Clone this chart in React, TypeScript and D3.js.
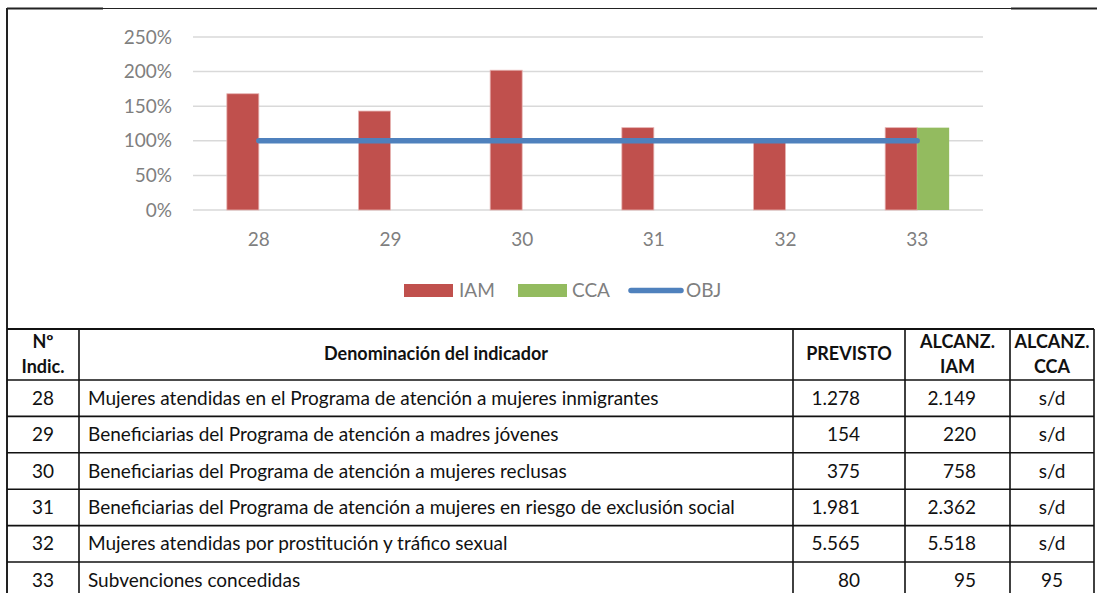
import React from "react";
import * as d3 from "d3";

const categories = ["28", "29", "30", "31", "32", "33"];
const iamValues = [1.68, 1.43, 2.02, 1.19, 0.99, 1.19];
const ccaValues: (number | null)[] = [null, null, null, null, null, 1.19];
const objValues = [1, 1, 1, 1, 1, 1];
const yTicks = [0, 0.5, 1, 1.5, 2, 2.5];

const indicatorNames = [
  "Mujeres atendidas en el Programa de atención a mujeres inmigrantes",
  "Beneficiarias del Programa de atención a madres jóvenes",
  "Beneficiarias del Programa de atención a mujeres reclusas",
  "Beneficiarias del Programa de atención a mujeres en riesgo de exclusión social",
  "Mujeres atendidas por prostitución y tráfico sexual",
  "Subvenciones concedidas",
];
const previsto = ["1.278", "154", "375", "1.981", "5.565", "80"];
const alcanzIam = ["2.149", "220", "758", "2.362", "5.518", "95"];
const alcanzCca = ["s/d", "s/d", "s/d", "s/d", "s/d", "95"];

const W = 1097;
const H = 593;
const RED = "#C0504D";
const GREEN = "#93BB5F";
const BLUE = "#4F81BD";
const GRAY = "#7F7F7F";
const FONT = "Lato, 'Open Sans', sans-serif";

export default function App() {
  const plotLeft = 193;
  const plotRight = 983;
  const y = d3.scaleLinear().domain([0, 2.5]).range([210, 37]);
  const pad = 0.514;
  const x = d3
    .scaleBand<string>()
    .domain(categories)
    .range([plotLeft, plotRight])
    .paddingInner(pad)
    .paddingOuter(pad / 2);
  const sub = d3
    .scaleBand<string>()
    .domain(["IAM", "CCA"])
    .range([0, x.bandwidth()]);
  const cx = (c: string) => (x(c) as number) + x.bandwidth() / 2;

  const line = d3
    .line<number>()
    .x((_, i) => cx(categories[i]))
    .y((d) => y(d));

  // table geometry
  const colX = [7, 79, 793, 905, 1010, 1094];
  const tableTop = 329;
  const headerBottom = 380;
  const rowH = 36.4;
  const rowY = (i: number) => headerBottom + i * rowH;
  const tf = 19;

  return (
    <svg
      width={W}
      height={H}
      style={{ position: "absolute", left: 0, top: 0, background: "#fff" }}
      fontFamily={FONT}
    >
      <rect x={0} y={0} width={W} height={H} fill="#fff" />
      {/* frame */}
      <line x1={7} x2={W} y1={8.5} y2={8.5} stroke="#222" strokeWidth={1} />
      <line x1={7} x2={103} y1={8.5} y2={8.5} stroke="#222" strokeWidth={2} />
      <line x1={1011} x2={W} y1={8.5} y2={8.5} stroke="#222" strokeWidth={2} />
      <line x1={7} x2={7} y1={8} y2={H} stroke="#222" strokeWidth={2} />

      {/* gridlines */}
      {yTicks.map((t) => (
        <g key={t}>
          <line
            x1={plotLeft}
            x2={plotRight}
            y1={y(t)}
            y2={y(t)}
            stroke="#D9D9D9"
            strokeWidth={1.5}
          />
          <text
            x={172}
            y={y(t)}
            dy="0.35em"
            textAnchor="end"
            fontSize={19}
            fill={GRAY}
          >
            {d3.format(".0%")(t)}
          </text>
        </g>
      ))}

      {/* bars */}
      {categories.map((c, i) => (
        <g key={c}>
          <rect
            x={(x(c) as number) + (sub("IAM") as number)}
            y={y(iamValues[i])}
            width={sub.bandwidth()}
            height={y(0) - y(iamValues[i])}
            fill={RED}
            stroke="#E6B3B2"
            strokeWidth={0.8}
          />
          {ccaValues[i] != null && (
            <rect
              x={(x(c) as number) + (sub("CCA") as number)}
              y={y(ccaValues[i] as number)}
              width={sub.bandwidth()}
              height={y(0) - y(ccaValues[i] as number)}
              fill={GREEN}
            />
          )}
          <text
            x={cx(c)}
            y={246}
            textAnchor="middle"
            fontSize={19}
            fill={GRAY}
          >
            {c}
          </text>
        </g>
      ))}

      {/* OBJ line */}
      <path
        d={line(objValues) as string}
        fill="none"
        stroke={BLUE}
        strokeWidth={5.5}
        strokeLinecap="round"
      />

      {/* legend */}
      <rect x={404} y={284} width={49} height={13} fill={RED} />
      <text x={459} y={297} fontSize={19} fill={GRAY}>
        IAM
      </text>
      <rect x={518} y={284} width={49} height={13} fill={GREEN} />
      <text x={572} y={297} fontSize={19} fill={GRAY}>
        CCA
      </text>
      <line
        x1={631}
        x2={681}
        y1={290.5}
        y2={290.5}
        stroke={BLUE}
        strokeWidth={5.5}
        strokeLinecap="round"
      />
      <text x={686} y={297} fontSize={19} fill={GRAY}>
        OBJ
      </text>

      {/* table */}
      <g stroke="#111" strokeWidth={1.6}>
        <line x1={7} x2={colX[5]} y1={tableTop} y2={tableTop} strokeWidth={2} />
        {categories.map((_, i) => (
          <line
            key={i}
            x1={7}
            x2={colX[5]}
            y1={rowY(i)}
            y2={rowY(i)}
          />
        ))}
        {colX.slice(1).map((cxv, i) => (
          <line key={i} x1={cxv} x2={cxv} y1={tableTop} y2={H} />
        ))}
      </g>
      <g fontWeight="bold" fontSize={tf - 1} fill="#111" textAnchor="middle">
        <text x={(colX[0] + colX[1]) / 2} y={348}>
          Nº
        </text>
        <text x={(colX[0] + colX[1]) / 2} y={373}>
          Indic.
        </text>
        <text x={(colX[1] + colX[2]) / 2} y={360}>
          Denominación del indicador
        </text>
        <text x={(colX[2] + colX[3]) / 2} y={360}>
          PREVISTO
        </text>
        <text x={(colX[3] + colX[4]) / 2} y={348}>
          ALCANZ.
        </text>
        <text x={(colX[3] + colX[4]) / 2} y={373}>
          IAM
        </text>
        <text x={(colX[4] + colX[5]) / 2} y={348}>
          ALCANZ.
        </text>
        <text x={(colX[4] + colX[5]) / 2} y={373}>
          CCA
        </text>
      </g>
      <g fontSize={tf} fill="#111">
        {categories.map((c, i) => {
          const base = rowY(i) + rowH / 2 + 6.5;
          return (
            <g key={c}>
              <text x={(colX[0] + colX[1]) / 2} y={base} textAnchor="middle">
                {c}
              </text>
              <text x={88} y={base}>
                {indicatorNames[i]}
              </text>
              <text x={860} y={base} textAnchor="end">
                {previsto[i]}
              </text>
              <text x={976} y={base} textAnchor="end">
                {alcanzIam[i]}
              </text>
              <text x={(colX[4] + colX[5]) / 2} y={base} textAnchor="middle">
                {alcanzCca[i]}
              </text>
            </g>
          );
        })}
      </g>
    </svg>
  );
}
